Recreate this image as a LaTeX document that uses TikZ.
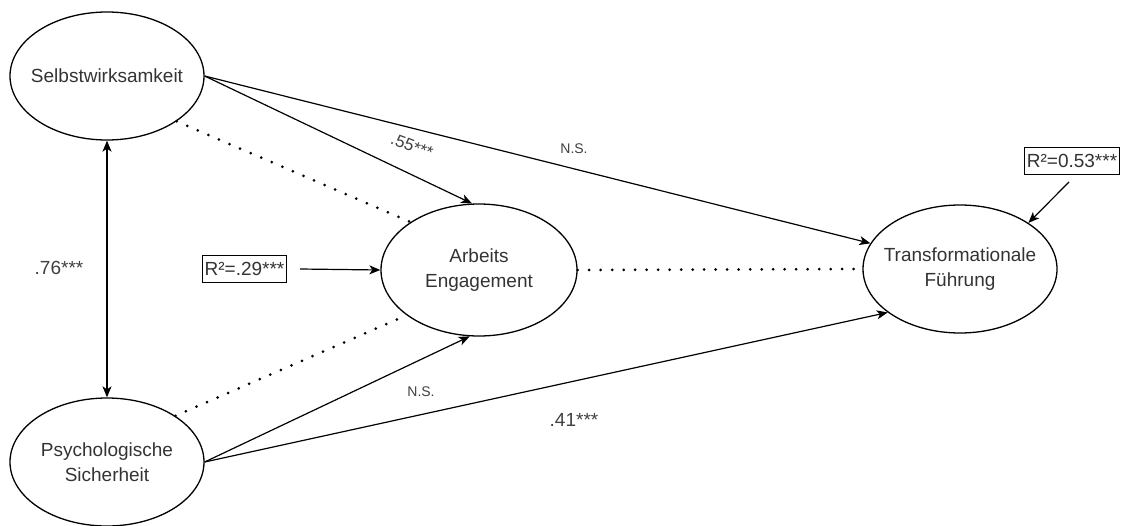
\documentclass[tikz,border=0pt]{standalone}
\usepackage{fontspec}
\setmainfont{Liberation Sans}
\usetikzlibrary{shapes.geometric,arrows.meta}
\begin{document}
\begin{tikzpicture}[x=1pt,y=-1pt,
  latent/.style={ellipse, draw, line width=1.3pt, minimum width=194pt, minimum height=128pt, inner xsep=-20pt, inner ysep=0pt, align=center, font=\fontsize{19}{25}\selectfont, text=black!80},
  rbox/.style={draw, line width=1.2pt, inner sep=2pt, minimum height=27pt, font=\fontsize{19}{22}\selectfont, text=black!80},
  lbl/.style={font=\fontsize{19}{22}\selectfont, text=black!75},
  smalllbl/.style={font=\fontsize{14}{16}\selectfont, text=black!75},
  pathline/.style={line width=1.2pt, -{Stealth[length=11pt,width=9pt,inset=3pt]}},
  dotline/.style={line width=3pt, dash pattern=on 0pt off 11.5pt, line cap=round}
]
\useasboundingbox (0,0) rectangle (1123,525);

\node[latent] (S) at (107,76) {Selbstwirksamkeit};
\node[latent] (P) at (107,462) {Psychologische\\Sicherheit};
\node[latent, minimum width=196pt, minimum height=132pt] (A) at (479,270) {Arbeits\\Engagement};
\node[latent] (T) at (960,269) {Transformationale\\Führung};

\node[rbox] (r1) at (244.5,269) {R²=.29***};
\node[rbox] (r2) at (1072,161) {R²=0.53***};
\coordinate (r1s) at (300,269);
\coordinate (r2s) at (1069,182);

% correlation
\draw[line width=1.2pt, {Stealth[length=11pt,width=9pt,inset=3pt]}-{Stealth[length=11pt,width=9pt,inset=3pt]}] (S.south) -- (P.north);

% paths
\draw[pathline] (S.east) -- (A.96);
\draw[pathline] (S.east) -- (T.164.7);
\draw[pathline] (P.east) -- (A.262);
\draw[pathline] (P.east) -- (T.211.8);
\draw[pathline] (r1s) -- (A.west);
\draw[pathline] (r2s) -- (T.34);

% dotted
\draw[dotline] (S.-33) -- (A.145);
\draw[dotline] (P.34) -- (A.212);
\draw[dotline] (A.east) -- (T.west);

% labels
\node[lbl] (l76) at (59,268) {.76***};
\node[lbl, rotate=-21, font=\fontsize{17}{20}\selectfont] (l55) at (412,146) {.55***};
\node[smalllbl] (ns1) at (574,149) {N.S.};
\node[smalllbl] (ns2) at (421,392) {N.S.};
\node[lbl] (l41) at (574,420) {.41***};
\end{tikzpicture}
\end{document}
